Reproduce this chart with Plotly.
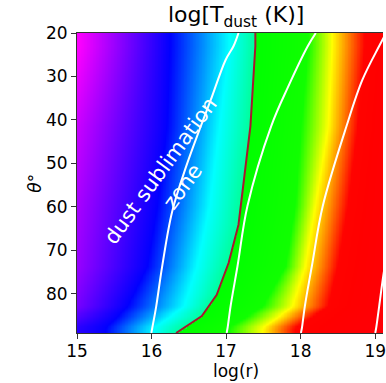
import numpy as np
import plotly.graph_objects as go

# ---- dust temperature profile, tabulated along log(r) at several polar angles ----
THETA_ROWS = [23.0, 41.4, 59.8, 73.6, 82.8, 87.8]
# log T at the inner edge log(r) = 15
T_EDGE = [3.39, 3.29, 3.23, 3.20, 3.14, 3.00]
# log(r) at which log T falls to each level
R_T293 = [16.236, 16.196, 16.063, 15.930, 15.664, 15.372]
R_T247 = [17.033, 16.900, 16.767, 16.595, 16.422, 16.023]
R_T197 = [18.096, 18.003, 17.924, 17.791, 17.485, 17.033]
R_T154 = [18.415, 18.362, 18.189, 18.056, 17.884, 17.485]
R_T108 = [18.854, 18.761, 18.628, 18.495, 18.362, 17.924]
# log T just inside / just outside the sublimation front
T_FRONT_IN = 2.28
T_FRONT_OUT = 2.00

# ---- sublimation front (crimson contour) ----
FRONT_R = [17.392, 17.392, 17.326, 17.233, 17.193, 17.166, 17.033, 16.874, 16.674, 16.329]
FRONT_TH = [20.0, 23.0, 41.4, 53.8, 59.8, 64.1, 72.9, 80.2, 85.1, 89.0]

# ---- white contours ----
C1_R = [17.166, 17.100, 16.993, 16.794, 16.661, 16.462, 16.276, 16.143, 16.063, 16.010, 15.997]
C1_TH = [20.0, 23.0, 26.2, 35.4, 41.4, 50.8, 61.1, 73.6, 82.8, 87.8, 89.0]
C2_R = [18.203, 18.096, 17.831, 17.605, 17.286, 17.153, 17.060, 17.020, 17.007]
C2_TH = [20.0, 23.0, 32.4, 41.4, 59.8, 73.6, 82.8, 87.8, 89.0]
C3_R = [19.146, 19.053, 18.827, 18.615, 18.296, 18.150, 18.056, 18.017, 18.003]
C3_TH = [20.0, 23.0, 30.8, 41.4, 59.8, 73.6, 82.8, 87.8, 89.0]
C4_R = [19.186, 19.120, 19.053, 19.013, 19.000]
C4_TH = [68.7, 74.5, 82.8, 87.8, 89.0]

X_TICKS = [15, 16, 17, 18, 19]
Y_TICKS = [20, 30, 40, 50, 60, 70, 80]

LOGT_MIN, LOGT_MAX = 1.0, 3.5

# matplotlib gist_rainbow
GIST_RAINBOW = [
    [0.000, "rgb(255,0,41)"],
    [0.030, "rgb(255,0,0)"],
    [0.215, "rgb(255,255,0)"],
    [0.400, "rgb(0,255,0)"],
    [0.586, "rgb(0,255,255)"],
    [0.770, "rgb(0,0,255)"],
    [0.954, "rgb(255,0,255)"],
    [1.000, "rgb(255,0,191)"],
]

# ---- build the temperature map on a regular (log r, theta) grid ----
log_r = np.round(np.arange(15.0, 19.41, 0.01), 3)
theta = np.round(np.arange(20.0, 89.01, 0.5), 2)

Z = np.empty((theta.size, log_r.size))
for i, th in enumerate(theta):
    rf = np.interp(th, FRONT_TH, FRONT_R)
    xs = [15.0,
          np.interp(th, THETA_ROWS, R_T293),
          np.interp(th, THETA_ROWS, R_T247),
          rf, rf + 1e-3,
          np.interp(th, THETA_ROWS, R_T197),
          np.interp(th, THETA_ROWS, R_T154),
          np.interp(th, THETA_ROWS, R_T108),
          20.0]
    ts = [np.interp(th, THETA_ROWS, T_EDGE), 2.93, 2.47, T_FRONT_IN, T_FRONT_OUT,
          1.97, 1.54, 1.08, 1.05]
    Z[i] = np.interp(log_r, xs, ts)
Z = np.round(Z, 3)

fig = go.Figure()
fig.add_trace(go.Heatmap(
    x=log_r, y=theta, z=Z, colorscale=GIST_RAINBOW,
    zmin=LOGT_MIN, zmax=LOGT_MAX, showscale=False, zsmooth="best",
    hoverinfo="skip",
))

for rr, tt in [(C1_R, C1_TH), (C2_R, C2_TH), (C3_R, C3_TH), (C4_R, C4_TH)]:
    fig.add_trace(go.Scatter(x=rr, y=tt, mode="lines",
                             line=dict(color="white", width=2, shape="spline"),
                             showlegend=False, hoverinfo="skip"))

fig.add_trace(go.Scatter(x=FRONT_R, y=FRONT_TH, mode="lines",
                         line=dict(color="#a8182e", width=2),
                         showlegend=False, hoverinfo="skip"))

FONT = "DejaVu Sans"
fig.add_annotation(text="dust sublimation<br>zone", x=16.27, y=53.5,
                   xref="x", yref="y", showarrow=False, textangle=-54,
                   font=dict(family=FONT, size=21, color="white"))

fig.add_annotation(text="log[T<sub>dust</sub> (K)]", x=0.518, y=1.0,
                   xref="paper", yref="paper", xanchor="center", yanchor="bottom",
                   showarrow=False, font=dict(family=FONT, size=22, color="black"))
fig.add_annotation(text="log(r)", x=0.518, y=0.0, yshift=-26,
                   xref="paper", yref="paper", xanchor="center", yanchor="top",
                   showarrow=False, font=dict(family=FONT, size=17, color="black"))
fig.add_annotation(text="<i>θ</i>°", x=-0.138, y=0.5, textangle=-90,
                   xref="paper", yref="paper", xanchor="center", yanchor="middle",
                   showarrow=False, font=dict(family=FONT, size=17, color="black"))

fig.update_xaxes(range=[15, 19.104], tickvals=X_TICKS, ticks="outside", ticklen=5,
                 tickcolor="#333", showline=True, linecolor="#333", linewidth=1,
                 mirror=True, showgrid=False, zeroline=False,
                 ticklabeloverflow="allow", ticklabelstandoff=-2,
                 tickfont=dict(family=FONT, size=17, color="black"))
fig.update_yaxes(range=[89, 20], tickvals=Y_TICKS, ticks="outside", ticklen=5,
                 tickcolor="#333", showline=True, linecolor="#333", linewidth=1,
                 showgrid=False, zeroline=False,
                 tickfont=dict(family=FONT, size=17, color="black"))

fig.update_layout(width=386, height=383, margin=dict(l=77, r=0, t=33, b=50),
                  paper_bgcolor="white", plot_bgcolor="white", showlegend=False)

fig.write_html("out.html")
